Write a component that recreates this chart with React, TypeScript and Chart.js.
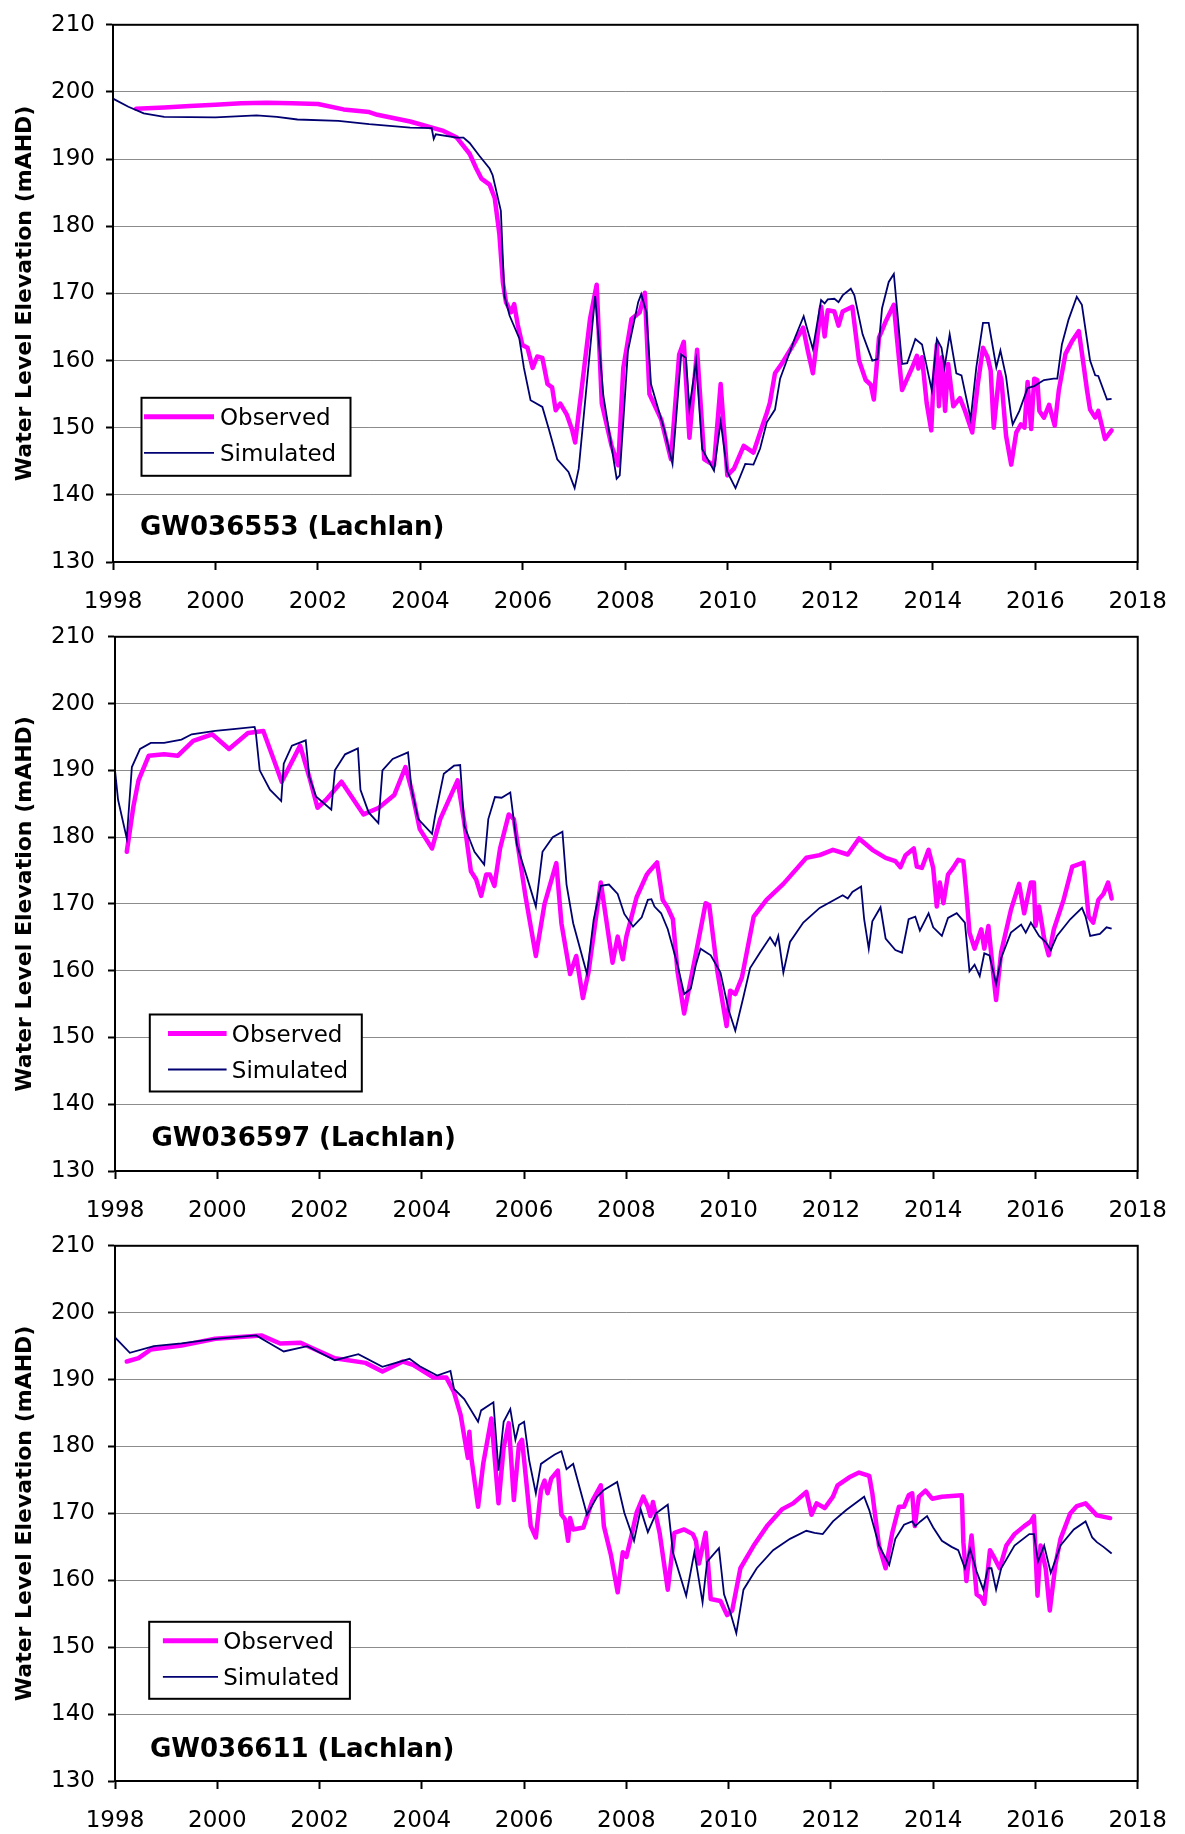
import React, { useEffect, useRef } from "react";
import { Chart, registerables } from "chart.js";

Chart.register(...registerables);

// ---------------- data ----------------
const X_MIN = 1998;
const X_MAX = 2018;
const X_STEP = 2;
const Y_MIN = 130;
const Y_MAX = 210;
const Y_STEP = 10;
const Y_TITLE = "Water Level Elevation (mAHD)";
const SERIES_LABELS = ["Observed", "Simulated"];
const PANEL_TITLES = ["GW036553 (Lachlan)", "GW036597 (Lachlan)", "GW036611 (Lachlan)"];

// Panel 1 – GW036553
const OBS1_T = [1998.45, 1999.0, 1999.5, 2000.0, 2000.5, 2001.0, 2001.5, 2002.0, 2002.5, 2003.0, 2003.16, 2003.8, 2004.45, 2004.71, 2004.96, 2005.09, 2005.19, 2005.35, 2005.45, 2005.54, 2005.61, 2005.67, 2005.77, 2005.83, 2005.9, 2005.99, 2006.09, 2006.19, 2006.28, 2006.38, 2006.48, 2006.57, 2006.64, 2006.73, 2006.86, 2006.96, 2007.02, 2007.15, 2007.31, 2007.44, 2007.54, 2007.73, 2007.86, 2007.96, 2008.12, 2008.28, 2008.38, 2008.47, 2008.7, 2008.89, 2009.05, 2009.14, 2009.25, 2009.4, 2009.54, 2009.73, 2009.86, 2009.99, 2010.12, 2010.31, 2010.5, 2010.63, 2010.76, 2010.82, 2010.92, 2011.05, 2011.21, 2011.47, 2011.56, 2011.66, 2011.82, 2011.89, 2011.95, 2012.08, 2012.16, 2012.24, 2012.43, 2012.56, 2012.69, 2012.79, 2012.85, 2012.95, 2013.08, 2013.24, 2013.3, 2013.4, 2013.6, 2013.69, 2013.72, 2013.79, 2013.88, 2013.97, 2014.01, 2014.08, 2014.12, 2014.18, 2014.24, 2014.3, 2014.4, 2014.53, 2014.62, 2014.77, 2014.88, 2014.98, 2015.07, 2015.13, 2015.19, 2015.3, 2015.34, 2015.43, 2015.53, 2015.63, 2015.72, 2015.79, 2015.85, 2015.92, 2015.98, 2016.04, 2016.08, 2016.17, 2016.27, 2016.38, 2016.46, 2016.59, 2016.72, 2016.85, 2016.94, 2017.01, 2017.07, 2017.17, 2017.23, 2017.3, 2017.36, 2017.49];
const OBS1_V = [197.5, 197.7, 197.9, 198.1, 198.3, 198.4, 198.3, 198.2, 197.4, 197.0, 196.6, 195.6, 194.2, 193.2, 190.8, 188.6, 187.1, 186.2, 184.2, 178.9, 171.6, 168.7, 167.2, 168.4, 165.3, 162.3, 161.9, 158.9, 160.6, 160.4, 156.5, 156.0, 152.6, 153.6, 151.9, 149.7, 147.8, 156.0, 166.2, 171.3, 153.6, 147.3, 144.4, 158.9, 166.2, 167.2, 170.1, 155.0, 151.2, 145.3, 160.9, 162.8, 148.5, 161.6, 145.3, 144.4, 156.5, 142.9, 143.9, 147.3, 146.3, 149.3, 152.2, 153.7, 158.1, 159.5, 161.5, 164.9, 161.5, 158.1, 168.0, 163.6, 167.5, 167.3, 165.2, 167.3, 168.0, 160.0, 157.1, 156.4, 154.2, 163.4, 165.8, 168.3, 163.4, 155.6, 159.0, 160.7, 158.8, 160.5, 153.7, 149.6, 156.1, 162.4, 153.2, 160.5, 152.5, 159.5, 153.2, 154.4, 152.7, 149.3, 156.6, 161.9, 160.5, 158.5, 150.0, 158.3, 157.1, 148.8, 144.5, 149.3, 150.5, 150.0, 156.8, 149.8, 157.3, 157.1, 152.5, 151.5, 153.4, 150.3, 155.6, 161.0, 162.9, 164.4, 159.5, 155.6, 152.7, 151.5, 152.5, 150.3, 148.3, 149.6];
const SIM1_T = [1998.0, 1998.3, 1998.6, 1999.0, 2000.0, 2000.8, 2001.2, 2001.6, 2002.4, 2003.0, 2003.8, 2004.22, 2004.26, 2004.3, 2004.71, 2004.84, 2004.96, 2005.15, 2005.35, 2005.41, 2005.57, 2005.64, 2005.74, 2005.93, 2006.02, 2006.15, 2006.38, 2006.51, 2006.67, 2006.89, 2007.01, 2007.09, 2007.41, 2007.57, 2007.83, 2007.89, 2008.05, 2008.25, 2008.31, 2008.41, 2008.5, 2008.76, 2008.92, 2009.09, 2009.18, 2009.25, 2009.38, 2009.5, 2009.73, 2009.86, 2009.99, 2010.15, 2010.34, 2010.5, 2010.63, 2010.76, 2010.92, 2011.02, 2011.15, 2011.31, 2011.48, 2011.66, 2011.82, 2011.89, 2011.95, 2012.08, 2012.16, 2012.24, 2012.4, 2012.47, 2012.63, 2012.82, 2012.92, 2013.01, 2013.14, 2013.24, 2013.4, 2013.5, 2013.66, 2013.79, 2013.98, 2014.08, 2014.17, 2014.23, 2014.33, 2014.46, 2014.56, 2014.74, 2014.85, 2014.98, 2015.09, 2015.24, 2015.32, 2015.43, 2015.53, 2015.56, 2015.69, 2015.85, 2015.98, 2016.17, 2016.36, 2016.43, 2016.52, 2016.65, 2016.81, 2016.91, 2017.07, 2017.17, 2017.23, 2017.4, 2017.49];
const SIM1_V = [199.0, 197.8, 196.8, 196.3, 196.2, 196.5, 196.3, 195.9, 195.7, 195.2, 194.7, 194.6, 193.0, 193.7, 193.2, 193.2, 192.4, 190.5, 188.6, 187.6, 182.3, 169.6, 166.7, 163.3, 158.9, 154.1, 153.1, 149.7, 145.3, 143.4, 141.0, 143.9, 169.6, 154.8, 142.4, 142.9, 161.4, 168.7, 169.9, 167.2, 156.5, 149.7, 144.6, 160.9, 160.4, 152.9, 159.9, 146.8, 143.6, 150.9, 143.4, 141.0, 144.6, 144.5, 146.9, 150.8, 152.7, 157.3, 160.0, 163.4, 166.6, 161.7, 169.0, 168.5, 169.1, 169.2, 168.7, 169.7, 170.7, 169.7, 163.9, 160.0, 160.2, 167.8, 171.7, 172.9, 159.5, 159.6, 163.2, 162.4, 155.6, 163.2, 161.9, 159.0, 163.9, 158.1, 157.8, 151.3, 159.0, 165.6, 165.6, 159.0, 161.5, 157.6, 151.7, 150.5, 152.5, 155.9, 156.2, 157.1, 157.3, 157.3, 162.4, 166.1, 169.5, 168.3, 160.0, 157.8, 157.7, 154.2, 154.3];

// Panel 2 – GW036597
const OBS2_T = [1998.23, 1998.36, 1998.46, 1998.66, 1998.96, 1999.23, 1999.53, 1999.9, 2000.23, 2000.6, 2000.9, 2001.1, 2001.26, 2001.62, 2001.8, 2001.96, 2002.13, 2002.43, 2002.86, 2003.16, 2003.46, 2003.68, 2003.8, 2003.96, 2004.2, 2004.36, 2004.7, 2004.83, 2004.96, 2005.06, 2005.16, 2005.26, 2005.33, 2005.42, 2005.53, 2005.7, 2005.8, 2006.03, 2006.23, 2006.4, 2006.63, 2006.73, 2006.9, 2007.02, 2007.15, 2007.26, 2007.5, 2007.73, 2007.83, 2007.93, 2008.0, 2008.2, 2008.4, 2008.45, 2008.6, 2008.71, 2008.81, 2008.91, 2009.0, 2009.13, 2009.33, 2009.55, 2009.62, 2009.78, 2009.96, 2010.03, 2010.13, 2010.26, 2010.49, 2010.74, 2011.07, 2011.52, 2011.78, 2012.04, 2012.33, 2012.55, 2012.81, 2013.07, 2013.26, 2013.36, 2013.46, 2013.62, 2013.68, 2013.78, 2013.91, 2014.0, 2014.07, 2014.13, 2014.2, 2014.29, 2014.39, 2014.49, 2014.59, 2014.65, 2014.71, 2014.81, 2014.94, 2015.0, 2015.08, 2015.17, 2015.23, 2015.33, 2015.52, 2015.68, 2015.78, 2015.91, 2015.97, 2016.0, 2016.07, 2016.17, 2016.26, 2016.36, 2016.55, 2016.72, 2016.94, 2017.04, 2017.13, 2017.23, 2017.33, 2017.42, 2017.49];
const OBS2_V = [177.8, 184.6, 188.5, 192.2, 192.4, 192.2, 194.4, 195.4, 193.2, 195.6, 195.9, 191.7, 188.3, 193.7, 189.0, 184.4, 185.6, 188.3, 183.4, 184.4, 186.3, 190.5, 187.1, 181.2, 178.3, 182.7, 188.5, 182.2, 174.9, 173.7, 171.2, 174.4, 174.4, 172.7, 178.3, 183.4, 182.7, 171.0, 162.2, 170.0, 176.1, 167.1, 159.5, 162.2, 155.9, 159.8, 173.2, 161.2, 165.1, 161.7, 165.1, 171.0, 174.4, 174.9, 176.2, 170.6, 169.4, 167.7, 159.9, 153.6, 161.4, 170.1, 169.8, 159.9, 151.7, 157.0, 156.5, 159.0, 168.1, 170.6, 173.0, 176.9, 177.3, 178.1, 177.4, 179.8, 178.1, 176.9, 176.4, 175.5, 177.3, 178.3, 175.6, 175.4, 178.1, 175.4, 169.6, 173.2, 170.1, 174.4, 175.4, 176.6, 176.4, 171.5, 165.7, 163.3, 166.2, 163.3, 166.7, 159.9, 155.6, 162.8, 169.1, 173.0, 168.6, 173.2, 173.2, 166.7, 169.6, 164.8, 162.3, 166.2, 170.6, 175.6, 176.2, 168.1, 167.2, 170.6, 171.5, 173.2, 170.8];
const SIM2_T = [1998.0, 1998.06, 1998.23, 1998.33, 1998.49, 1998.7, 1998.96, 1999.3, 1999.5, 1999.96, 2000.36, 2000.73, 2000.75, 2000.83, 2001.03, 2001.25, 2001.3, 2001.46, 2001.73, 2001.8, 2001.93, 2002.23, 2002.3, 2002.5, 2002.75, 2002.8, 2002.96, 2003.15, 2003.23, 2003.43, 2003.73, 2003.8, 2003.93, 2004.2, 2004.26, 2004.43, 2004.63, 2004.75, 2004.83, 2005.03, 2005.22, 2005.3, 2005.43, 2005.56, 2005.73, 2005.86, 2006.06, 2006.23, 2006.36, 2006.56, 2006.75, 2006.83, 2006.96, 2007.23, 2007.36, 2007.5, 2007.66, 2007.83, 2007.96, 2008.13, 2008.3, 2008.42, 2008.49, 2008.55, 2008.68, 2008.81, 2009.0, 2009.13, 2009.26, 2009.36, 2009.45, 2009.65, 2009.84, 2010.0, 2010.13, 2010.29, 2010.42, 2010.62, 2010.81, 2010.91, 2010.97, 2011.07, 2011.2, 2011.46, 2011.78, 2012.23, 2012.33, 2012.42, 2012.59, 2012.65, 2012.74, 2012.81, 2012.97, 2013.07, 2013.26, 2013.39, 2013.52, 2013.65, 2013.74, 2013.91, 2014.0, 2014.17, 2014.29, 2014.46, 2014.62, 2014.71, 2014.81, 2014.91, 2015.0, 2015.1, 2015.23, 2015.33, 2015.52, 2015.72, 2015.81, 2015.91, 2016.07, 2016.2, 2016.3, 2016.42, 2016.68, 2016.91, 2016.98, 2017.07, 2017.26, 2017.39, 2017.49];
const SIM2_V = [190.0, 185.6, 179.8, 190.5, 193.2, 194.1, 194.1, 194.6, 195.4, 195.9, 196.2, 196.5, 195.9, 190.0, 187.1, 185.4, 191.0, 193.7, 194.5, 189.0, 186.1, 184.1, 190.0, 192.4, 193.3, 187.1, 183.7, 182.1, 190.0, 191.7, 192.7, 187.1, 182.7, 180.5, 183.2, 189.5, 190.7, 190.8, 181.7, 177.8, 175.9, 182.7, 186.0, 185.9, 186.7, 178.8, 173.9, 169.6, 177.8, 180.0, 180.8, 172.9, 167.1, 159.5, 167.6, 172.7, 172.9, 171.5, 168.5, 166.6, 168.0, 170.6, 170.7, 169.6, 168.6, 166.2, 160.9, 156.5, 157.3, 160.9, 163.3, 162.3, 159.7, 154.1, 151.0, 156.1, 160.4, 162.8, 165.0, 163.8, 165.2, 159.7, 164.3, 167.2, 169.4, 171.3, 170.8, 171.8, 172.6, 167.7, 163.3, 167.4, 169.5, 164.8, 163.1, 162.7, 167.7, 168.1, 166.0, 168.6, 166.5, 165.2, 167.9, 168.6, 167.2, 159.9, 160.9, 159.2, 162.6, 162.3, 158.0, 161.9, 165.7, 166.9, 165.7, 167.2, 165.2, 164.3, 163.1, 165.2, 167.7, 169.4, 168.1, 165.2, 165.5, 166.5, 166.3];

// Panel 3 – GW036611
const OBS3_T = [1998.23, 1998.46, 1998.7, 1999.3, 1999.96, 2000.86, 2001.23, 2001.63, 2001.83, 2002.3, 2002.9, 2003.23, 2003.63, 2003.83, 2004.23, 2004.48, 2004.63, 2004.76, 2004.9, 2004.93, 2004.96, 2005.1, 2005.2, 2005.36, 2005.5, 2005.6, 2005.7, 2005.8, 2005.9, 2005.96, 2006.06, 2006.13, 2006.23, 2006.33, 2006.4, 2006.46, 2006.53, 2006.66, 2006.73, 2006.8, 2006.86, 2006.9, 2006.96, 2007.16, 2007.33, 2007.5, 2007.56, 2007.7, 2007.83, 2007.93, 2008.0, 2008.1, 2008.2, 2008.33, 2008.42, 2008.47, 2008.52, 2008.65, 2008.81, 2008.94, 2009.13, 2009.3, 2009.36, 2009.42, 2009.55, 2009.65, 2009.84, 2009.97, 2010.07, 2010.23, 2010.49, 2010.75, 2011.04, 2011.26, 2011.52, 2011.62, 2011.72, 2011.88, 2012.04, 2012.13, 2012.36, 2012.55, 2012.75, 2012.81, 2012.94, 2013.07, 2013.2, 2013.33, 2013.43, 2013.52, 2013.59, 2013.64, 2013.72, 2013.85, 2013.98, 2014.17, 2014.36, 2014.56, 2014.59, 2014.65, 2014.75, 2014.85, 2014.94, 2015.0, 2015.11, 2015.2, 2015.3, 2015.43, 2015.59, 2015.78, 2015.91, 2015.97, 2016.04, 2016.1, 2016.2, 2016.28, 2016.39, 2016.49, 2016.68, 2016.81, 2016.98, 2017.2, 2017.46];
const OBS3_V = [192.7, 193.2, 194.5, 195.1, 196.1, 196.6, 195.4, 195.5, 194.8, 193.2, 192.5, 191.2, 192.7, 192.2, 190.3, 190.3, 188.1, 184.7, 178.3, 182.2, 178.8, 171.0, 177.4, 184.2, 171.5, 179.8, 183.5, 172.0, 180.3, 181.0, 173.5, 168.1, 166.4, 173.5, 174.9, 173.0, 175.2, 176.4, 169.8, 169.1, 165.9, 169.3, 167.6, 167.9, 171.8, 174.2, 168.1, 163.7, 158.2, 164.2, 163.5, 166.7, 170.1, 172.5, 171.0, 169.6, 171.7, 167.1, 158.6, 167.1, 167.6, 166.9, 165.9, 162.5, 167.1, 157.2, 156.9, 154.8, 155.5, 161.8, 165.2, 168.1, 170.6, 171.5, 173.2, 169.8, 171.5, 170.8, 172.5, 174.2, 175.4, 176.1, 175.6, 173.0, 165.2, 161.8, 167.1, 171.0, 171.0, 172.7, 173.0, 168.1, 172.5, 173.4, 172.2, 172.5, 172.6, 172.7, 165.7, 159.9, 166.7, 157.9, 157.4, 156.5, 164.5, 163.3, 161.8, 165.2, 166.9, 168.1, 168.8, 169.6, 157.7, 165.2, 161.8, 155.5, 162.3, 166.2, 170.0, 171.1, 171.5, 169.7, 169.3];
const SIM3_T = [1998.0, 1998.29, 1998.76, 1999.3, 1999.96, 2000.76, 2001.03, 2001.3, 2001.76, 2001.96, 2002.3, 2002.76, 2003.23, 2003.76, 2003.96, 2004.3, 2004.56, 2004.63, 2004.83, 2005.1, 2005.16, 2005.4, 2005.5, 2005.6, 2005.73, 2005.83, 2005.9, 2006.0, 2006.1, 2006.23, 2006.33, 2006.46, 2006.6, 2006.73, 2006.83, 2006.96, 2007.23, 2007.43, 2007.56, 2007.82, 2007.96, 2008.15, 2008.28, 2008.42, 2008.58, 2008.81, 2008.91, 2009.17, 2009.33, 2009.49, 2009.58, 2009.81, 2009.91, 2010.04, 2010.15, 2010.29, 2010.55, 2010.87, 2011.2, 2011.52, 2011.68, 2011.84, 2012.04, 2012.3, 2012.65, 2012.75, 2012.94, 2013.14, 2013.26, 2013.43, 2013.59, 2013.65, 2013.75, 2013.88, 2014.0, 2014.17, 2014.36, 2014.49, 2014.62, 2014.72, 2014.85, 2014.98, 2015.07, 2015.14, 2015.23, 2015.33, 2015.59, 2015.88, 2015.97, 2016.05, 2016.17, 2016.3, 2016.49, 2016.75, 2016.98, 2017.11, 2017.2, 2017.33, 2017.49];
const SIM3_V = [196.3, 194.0, 195.0, 195.4, 196.1, 196.6, 195.4, 194.2, 195.0, 194.2, 192.9, 193.8, 191.9, 193.1, 192.0, 190.6, 191.3, 188.6, 187.1, 183.7, 185.4, 186.6, 176.4, 183.7, 185.6, 181.0, 183.2, 183.7, 177.9, 173.0, 177.4, 178.1, 178.8, 179.3, 176.6, 177.4, 169.8, 172.5, 173.5, 174.7, 170.1, 165.9, 170.6, 167.2, 170.0, 171.3, 164.2, 157.7, 164.2, 156.7, 162.8, 164.8, 157.9, 155.0, 152.1, 158.6, 161.8, 164.5, 166.2, 167.4, 167.1, 166.9, 168.8, 170.5, 172.5, 170.5, 165.2, 162.3, 166.2, 168.3, 168.8, 168.1, 168.8, 169.6, 167.9, 165.9, 165.0, 164.5, 161.8, 164.7, 161.3, 158.6, 161.8, 161.8, 158.6, 161.8, 165.2, 166.9, 166.9, 162.8, 165.2, 161.1, 165.2, 167.6, 168.8, 166.4, 165.7, 165.0, 164.0];

// ---------------- styling / layout ----------------
const FONT = "'DejaVu Sans', 'Liberation Sans', sans-serif";
const MAGENTA = "#ff00ff";
const NAVY = "#000070";
const GRID = "#8c8c8c";

type PanelCfg = {
  top: number; h: number; padTop: number; padRight: number; yAxisW: number; xAxisH: number;
  yTickPad: number;
  title: string; titleDx: number; titleDy: number;
  legX: number; legY: number; legW: number; legH: number; lineX1: number; lineX2: number; textX: number;
  obsT: number[]; obsV: number[]; simT: number[]; simV: number[];
};

const PANELS: PanelCfg[] = [
  { top: 0, h: 620, padTop: 14, padRight: 37, yAxisW: 113, xAxisH: 58, yTickPad: 11,
    title: PANEL_TITLES[0], titleDx: 27, titleDy: 36,
    legX: 28.5, legY: 373, legW: 209, legH: 78, lineX1: 31, lineX2: 101, textX: 107,
    obsT: OBS1_T, obsV: OBS1_V, simT: SIM1_T, simV: SIM1_V },
  { top: 610, h: 620, padTop: 14, padRight: 38, yAxisW: 115, xAxisH: 59, yTickPad: 13,
    title: PANEL_TITLES[1], titleDx: 36.5, titleDy: 34.5,
    legX: 34.8, legY: 377.7, legW: 212, legH: 77, lineX1: 53, lineX2: 111.6, textX: 116.8,
    obsT: OBS2_T, obsV: OBS2_V, simT: SIM2_T, simV: SIM2_V },
  { top: 1219, h: 615, padTop: 14, padRight: 38, yAxisW: 115, xAxisH: 53, yTickPad: 13,
    title: PANEL_TITLES[2], titleDx: 35, titleDy: 33,
    legX: 34.2, legY: 376, legW: 200.7, legH: 77, lineX1: 47.9, lineX2: 103, textX: 108.2,
    obsT: OBS3_T, obsV: OBS3_V, simT: SIM3_T, simV: SIM3_V },
];

const toXY = (t: number[], v: number[]) => t.map((x, i) => ({ x, y: v[i] }));

function makeDecor(cfg: PanelCfg) {
  return {
    id: "decor",
    afterDraw(chart: any) {
      const { ctx, chartArea } = chart;
      const { left, top, right, bottom } = chartArea;
      ctx.save();
      // frame
      ctx.strokeStyle = "#000";
      ctx.lineWidth = 2;
      ctx.strokeRect(left, top, right - left, bottom - top);
      // station title
      ctx.fillStyle = "#000";
      ctx.font = `bold 26px ${FONT}`;
      ctx.textAlign = "left";
      ctx.textBaseline = "alphabetic";
      ctx.fillText(cfg.title, left + cfg.titleDx, bottom - cfg.titleDy + 0.3645 * 26);
      // legend
      const bx = left + cfg.legX;
      const by = top + cfg.legY;
      ctx.fillStyle = "#fff";
      ctx.fillRect(bx, by, cfg.legW, cfg.legH);
      ctx.strokeStyle = "#000";
      ctx.lineWidth = 2;
      ctx.strokeRect(bx, by, cfg.legW, cfg.legH);
      const rows = [
        { y: by + 19, color: MAGENTA, w: 5, label: SERIES_LABELS[0] },
        { y: by + 55, color: NAVY, w: 1.8, label: SERIES_LABELS[1] },
      ];
      ctx.font = `23px ${FONT}`;
      for (const r of rows) {
        ctx.beginPath();
        ctx.strokeStyle = r.color;
        ctx.lineWidth = r.w;
        ctx.moveTo(left + cfg.lineX1, r.y);
        ctx.lineTo(left + cfg.lineX2, r.y);
        ctx.stroke();
        ctx.fillStyle = "#000";
        ctx.fillText(r.label, left + cfg.textX, r.y + 0.3645 * 23);
      }
      ctx.restore();
    },
  };
}

function Panel({ cfg }: { cfg: PanelCfg }) {
  const ref = useRef<HTMLCanvasElement>(null);
  useEffect(() => {
    const chart = new Chart(ref.current as HTMLCanvasElement, {
      type: "line",
      data: {
        datasets: [
          {
            label: SERIES_LABELS[1],
            data: toXY(cfg.simT, cfg.simV),
            borderColor: NAVY,
            backgroundColor: NAVY,
            borderWidth: 1.8,
            pointRadius: 0,
            tension: 0,
            fill: false,
            order: 0,
          },
          {
            label: SERIES_LABELS[0],
            data: toXY(cfg.obsT, cfg.obsV),
            borderColor: MAGENTA,
            backgroundColor: MAGENTA,
            borderWidth: 4.5,
            borderJoinStyle: "round",
            borderCapStyle: "round",
            pointRadius: 0,
            tension: 0,
            fill: false,
            order: 1,
          },
        ],
      },
      options: {
        animation: false,
        responsive: false,
        maintainAspectRatio: false,
        events: [],
        layout: { padding: { top: cfg.padTop, right: cfg.padRight, left: 0, bottom: 0 } },
        plugins: { legend: { display: false }, tooltip: { enabled: false } },
        scales: {
          x: {
            type: "linear",
            min: X_MIN,
            max: X_MAX,
            ticks: {
              stepSize: X_STEP,
              autoSkip: false,
              maxRotation: 0,
              color: "#000",
              padding: 18,
              font: { family: FONT, size: 23 },
              callback: (v: any) => String(v),
            },
            grid: { drawOnChartArea: false, drawTicks: true, tickLength: 8, tickColor: "#000", tickWidth: 2 },
            border: { display: true, color: "#000", width: 2 },
            afterFit: (s: any) => { s.height = cfg.xAxisH; },
          },
          y: {
            type: "linear",
            min: Y_MIN,
            max: Y_MAX,
            ticks: {
              stepSize: Y_STEP,
              color: "#000",
              padding: cfg.yTickPad,
              font: { family: FONT, size: 23 },
              callback: (v: any) => String(v),
            },
            grid: { color: GRID, lineWidth: 1, drawTicks: true, tickLength: 7, tickColor: "#000", tickWidth: 2 },
            border: { display: true, color: "#000", width: 2 },
            title: {
              display: true,
              text: Y_TITLE,
              color: "#000",
              font: { family: FONT, size: 22, weight: "bold" },
              padding: { top: 12, bottom: 0 },
            },
            afterFit: (s: any) => { s.width = cfg.yAxisW; },
          },
        },
      },
      plugins: [makeDecor(cfg)],
    } as any);
    return () => chart.destroy();
  }, [cfg]);
  return (
    <canvas
      ref={ref}
      width={1185}
      height={cfg.h}
      style={{ position: "absolute", left: 0, top: cfg.top, width: 1185, height: cfg.h }}
    />
  );
}

export default function App() {
  return (
    <div style={{ position: "absolute", left: 0, top: 0, width: 1185, height: 1834, background: "#fff" }}>
      {PANELS.map((p, i) => (
        <Panel key={i} cfg={p} />
      ))}
    </div>
  );
}
